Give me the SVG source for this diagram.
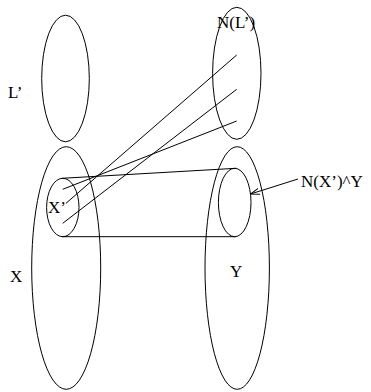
<svg xmlns="http://www.w3.org/2000/svg" width="371" height="392" viewBox="0 0 371 392">
<defs>
<style>
.s{fill:none;stroke:#000;stroke-width:1}
.t{font-family:"Liberation Serif","Times New Roman",serif;font-size:17px;fill:#000}
</style>
<marker id="ah" markerWidth="10" markerHeight="8" refX="9" refY="4" orient="auto" markerUnits="userSpaceOnUse">
<path d="M0,1 L9,4 L0,7" fill="none" stroke="#000" stroke-width="1"/>
</marker>
</defs>
<rect width="371" height="392" fill="#fff"/>
<g id="Lprime">
<ellipse class="s" cx="65.5" cy="78.5" rx="23.8" ry="63.3"/>
<text class="t" x="8" y="98">L’</text>
</g>
<g id="X">
<ellipse class="s" cx="66.2" cy="268" rx="34.5" ry="121.3"/>
<text class="t" x="10" y="282">X</text>
</g>
<g id="Xprime">
<ellipse class="s" cx="62.8" cy="207.5" rx="16.2" ry="29.2"/>
<text class="t" x="48" y="213">X’</text>
</g>
<g id="NLprime">
<ellipse class="s" cx="236.8" cy="73.3" rx="24.2" ry="66"/>
<text class="t" x="217" y="28">N(L’)</text>
</g>
<g id="Y">
<ellipse class="s" cx="237.2" cy="268" rx="32.2" ry="121.3"/>
<text class="t" x="230" y="277">Y</text>
</g>
<g id="NXY">
<ellipse class="s" cx="234.7" cy="202.5" rx="16.3" ry="34.2"/>
<text class="t" x="301" y="187">N(X’)^Y</text>
</g>
<g id="connectors">
<line class="s" x1="62" y1="178.3" x2="236" y2="168.3"/>
<line class="s" x1="62" y1="236.7" x2="236" y2="236.7"/>
<line class="s" x1="62.7" y1="189.3" x2="236.7" y2="121"/>
<line class="s" x1="66" y1="203.3" x2="236.7" y2="55"/>
<line class="s" x1="62.7" y1="223.3" x2="236.7" y2="89.3"/>
<line class="s" x1="298" y1="179" x2="250.5" y2="194" marker-end="url(#ah)"/>
</g>
</svg>
